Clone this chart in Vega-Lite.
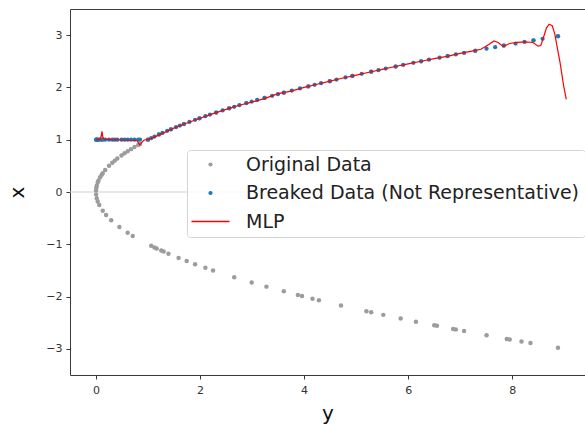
{
  "$schema": "https://vega.github.io/schema/vega-lite/v6.json",
  "width": 515,
  "height": 366,
  "autosize": {"type": "none"},
  "padding": {"left": 70, "top": 9, "right": 0, "bottom": 51},
  "background": "white",
  "config": {
    "font": "DejaVu Sans",
    "view": {"stroke": "#3a3a3a", "strokeWidth": 1},
    "axis": {
      "grid": false,
      "domain": false,
      "tickColor": "#3a3a3a",
      "tickSize": 4,
      "labelFontSize": 11,
      "labelColor": "#333333",
      "labelFont": "DejaVu Sans",
      "titleFont": "DejaVu Sans",
      "titleFontSize": 20,
      "titleFontWeight": "normal",
      "titleColor": "#111111"
    }
  },
  "datasets": {
    "orig": [
      {"y": 0.0009, "x": 0.03}, {"y": 0.0064, "x": 0.08}, {"y": 0.0144, "x": 0.12}, {"y": 0.0324, "x": 0.18},
      {"y": 0.0484, "x": 0.22}, {"y": 0.0784, "x": 0.28}, {"y": 0.1089, "x": 0.33}, {"y": 0.1296, "x": 0.36},
      {"y": 0.1764, "x": 0.42}, {"y": 0.25, "x": 0.5}, {"y": 0.3136, "x": 0.56}, {"y": 0.36, "x": 0.6},
      {"y": 0.4096, "x": 0.64}, {"y": 0.49, "x": 0.7}, {"y": 0.5476, "x": 0.74}, {"y": 0.6084, "x": 0.78},
      {"y": 0.6724, "x": 0.82}, {"y": 0.7396, "x": 0.86}, {"y": 0.81, "x": 0.9}, {"y": 0.8464, "x": 0.92},
      {"y": 0.0025, "x": -0.05}, {"y": 0.0144, "x": -0.12}, {"y": 0.0324, "x": -0.18}, {"y": 0.0625, "x": -0.25},
      {"y": 0.1296, "x": -0.36}, {"y": 0.1936, "x": -0.44}, {"y": 0.2916, "x": -0.54}, {"y": 0.4489, "x": -0.67},
      {"y": 0.6084, "x": -0.78}, {"y": 0.7056, "x": -0.84}, {"y": 1.0609, "x": -1.03}, {"y": 1.1236, "x": -1.06},
      {"y": 1.1664, "x": -1.08}, {"y": 1.2544, "x": -1.12}, {"y": 1.2996, "x": -1.14}, {"y": 1.3924, "x": -1.18},
      {"y": 1.5876, "x": -1.26}, {"y": 1.7424, "x": -1.32}, {"y": 1.9044, "x": -1.38}, {"y": 2.1025, "x": -1.45},
      {"y": 2.25, "x": -1.5}, {"y": 2.6569, "x": -1.63}, {"y": 2.9929, "x": -1.73}, {"y": 3.2761, "x": -1.81},
      {"y": 3.61, "x": -1.9}, {"y": 3.8809, "x": -1.97}, {"y": 3.9601, "x": -1.99}, {"y": 4.1616, "x": -2.04},
      {"y": 4.2849, "x": -2.07}, {"y": 4.7089, "x": -2.17}, {"y": 5.1984, "x": -2.28}, {"y": 5.29, "x": -2.3},
      {"y": 5.5225, "x": -2.35}, {"y": 5.8564, "x": -2.42}, {"y": 6.1504, "x": -2.48}, {"y": 6.5025, "x": -2.55},
      {"y": 6.5536, "x": -2.56}, {"y": 6.8644, "x": -2.62}, {"y": 6.9169, "x": -2.63}, {"y": 7.0756, "x": -2.66},
      {"y": 7.5076, "x": -2.74}, {"y": 7.8961, "x": -2.81}, {"y": 7.9524, "x": -2.82}, {"y": 8.1796, "x": -2.86},
      {"y": 8.3521, "x": -2.89}, {"y": 8.8804, "x": -2.98},
      {"y": 1.0, "x": 1.0}, {"y": 1.21, "x": 1.1}, {"y": 1.44, "x": 1.2}, {"y": 1.69, "x": 1.3},
      {"y": 1.9881, "x": 1.41}, {"y": 2.3104, "x": 1.52}, {"y": 2.56, "x": 1.6}, {"y": 2.89, "x": 1.7},
      {"y": 3.24, "x": 1.8}, {"y": 3.61, "x": 1.9}, {"y": 4.0804, "x": 2.02}, {"y": 4.4944, "x": 2.12},
      {"y": 4.9284, "x": 2.22}, {"y": 5.29, "x": 2.3}, {"y": 5.76, "x": 2.4}, {"y": 6.25, "x": 2.5},
      {"y": 6.76, "x": 2.6}, {"y": 7.29, "x": 2.7}, {"y": 7.84, "x": 2.8}, {"y": 8.41, "x": 2.9},
      {"y": 8.8804, "x": 2.98}
    ],
    "brk": [
      {"y": 0.0009, "x": 1.0}, {"y": 0.0064, "x": 1.0}, {"y": 0.0144, "x": 1.0}, {"y": 0.0324, "x": 1.0},
      {"y": 0.0484, "x": 1.0}, {"y": 0.0784, "x": 1.0}, {"y": 0.1089, "x": 1.0}, {"y": 0.1296, "x": 1.0},
      {"y": 0.1764, "x": 1.0}, {"y": 0.25, "x": 1.0}, {"y": 0.3136, "x": 1.0}, {"y": 0.36, "x": 1.0},
      {"y": 0.4096, "x": 1.0}, {"y": 0.49, "x": 1.0}, {"y": 0.5476, "x": 1.0}, {"y": 0.6084, "x": 1.0},
      {"y": 0.6724, "x": 1.0}, {"y": 0.7396, "x": 1.0}, {"y": 0.81, "x": 1.0}, {"y": 0.8464, "x": 1.0},
      {"y": 1.0, "x": 1.0}, {"y": 1.0609, "x": 1.03}, {"y": 1.1236, "x": 1.06}, {"y": 1.21, "x": 1.1},
      {"y": 1.2769, "x": 1.13}, {"y": 1.3689, "x": 1.17}, {"y": 1.44, "x": 1.2}, {"y": 1.5376, "x": 1.24},
      {"y": 1.6129, "x": 1.27}, {"y": 1.69, "x": 1.3}, {"y": 1.7956, "x": 1.34}, {"y": 1.9044, "x": 1.38},
      {"y": 1.9881, "x": 1.41}, {"y": 2.1025, "x": 1.45}, {"y": 2.1904, "x": 1.48}, {"y": 2.3104, "x": 1.52},
      {"y": 2.4336, "x": 1.56}, {"y": 2.56, "x": 1.6}, {"y": 2.6569, "x": 1.63}, {"y": 2.7556, "x": 1.66},
      {"y": 2.89, "x": 1.7}, {"y": 2.9929, "x": 1.73}, {"y": 3.0976, "x": 1.76}, {"y": 3.24, "x": 1.8},
      {"y": 3.3856, "x": 1.84}, {"y": 3.4969, "x": 1.87}, {"y": 3.61, "x": 1.9}, {"y": 3.7636, "x": 1.94},
      {"y": 3.9204, "x": 1.98}, {"y": 4.0804, "x": 2.02}, {"y": 4.2025, "x": 2.05}, {"y": 4.3264, "x": 2.08},
      {"y": 4.4944, "x": 2.12}, {"y": 4.6225, "x": 2.15}, {"y": 4.7961, "x": 2.19}, {"y": 4.9284, "x": 2.22},
      {"y": 5.1076, "x": 2.26}, {"y": 5.29, "x": 2.3}, {"y": 5.4289, "x": 2.33}, {"y": 5.5696, "x": 2.36},
      {"y": 5.76, "x": 2.4}, {"y": 5.9049, "x": 2.43}, {"y": 6.1009, "x": 2.47}, {"y": 6.25, "x": 2.5},
      {"y": 6.4009, "x": 2.53}, {"y": 6.6049, "x": 2.57}, {"y": 6.76, "x": 2.6}, {"y": 6.9169, "x": 2.63},
      {"y": 7.0756, "x": 2.66}, {"y": 7.29, "x": 2.7}, {"y": 7.5076, "x": 2.74}, {"y": 7.6729, "x": 2.77},
      {"y": 7.84, "x": 2.8}, {"y": 8.0656, "x": 2.84}, {"y": 8.2369, "x": 2.87}, {"y": 8.41, "x": 2.9},
      {"y": 8.5849, "x": 2.93}, {"y": 8.8804, "x": 2.98}
    ],
    "mlp": [
      {"y": 0.0, "x": 1.0}, {"y": 0.08, "x": 1.01}, {"y": 0.1, "x": 1.07}, {"y": 0.115, "x": 1.16},
      {"y": 0.13, "x": 1.05}, {"y": 0.16, "x": 1.01}, {"y": 0.3, "x": 1.0}, {"y": 0.5, "x": 0.995},
      {"y": 0.7, "x": 0.99}, {"y": 0.79, "x": 0.98}, {"y": 0.84, "x": 0.9}, {"y": 0.88, "x": 0.95},
      {"y": 0.92, "x": 0.99}, {"y": 1.0, "x": 1.01}, {"y": 1.1, "x": 1.04}, {"y": 1.3, "x": 1.13},
      {"y": 1.5, "x": 1.225}, {"y": 1.75, "x": 1.32}, {"y": 2.0, "x": 1.41}, {"y": 2.25, "x": 1.5},
      {"y": 2.5, "x": 1.58}, {"y": 2.75, "x": 1.66}, {"y": 3.0, "x": 1.72}, {"y": 3.25, "x": 1.79},
      {"y": 3.5, "x": 1.88}, {"y": 3.75, "x": 1.93}, {"y": 4.0, "x": 2.0}, {"y": 4.25, "x": 2.06},
      {"y": 4.5, "x": 2.12}, {"y": 4.75, "x": 2.18}, {"y": 5.0, "x": 2.235}, {"y": 5.25, "x": 2.29},
      {"y": 5.5, "x": 2.345}, {"y": 5.75, "x": 2.4}, {"y": 6.0, "x": 2.45}, {"y": 6.25, "x": 2.5},
      {"y": 6.5, "x": 2.55}, {"y": 6.75, "x": 2.595}, {"y": 7.0, "x": 2.65}, {"y": 7.25, "x": 2.7},
      {"y": 7.4, "x": 2.73}, {"y": 7.55, "x": 2.82}, {"y": 7.65, "x": 2.89}, {"y": 7.73, "x": 2.86},
      {"y": 7.83, "x": 2.78}, {"y": 7.95, "x": 2.84}, {"y": 8.1, "x": 2.86}, {"y": 8.25, "x": 2.87},
      {"y": 8.4, "x": 2.86}, {"y": 8.5, "x": 2.79}, {"y": 8.55, "x": 2.8}, {"y": 8.6, "x": 2.95},
      {"y": 8.66, "x": 3.14}, {"y": 8.71, "x": 3.21}, {"y": 8.77, "x": 3.18}, {"y": 8.82, "x": 3.02},
      {"y": 8.86, "x": 2.8}, {"y": 8.92, "x": 2.48}, {"y": 8.99, "x": 2.03}, {"y": 9.04, "x": 1.77}
    ]
  },
  "layer": [
    {
      "data": {"values": [{"v": 0}]},
      "mark": {"type": "rule", "color": "#cfcfcf", "strokeWidth": 1},
      "encoding": {"y": {"field": "v", "type": "quantitative", "scale": {"domain": [-3.5, 3.5]}}}
    },
    {
      "data": {"name": "orig"},
      "mark": {"type": "point", "filled": true, "opacity": 1, "size": 20, "strokeWidth": 0},
      "encoding": {
        "x": {"field": "y", "type": "quantitative"},
        "y": {"field": "x", "type": "quantitative"},
        "color": {"datum": "Original Data"}
      }
    },
    {
      "data": {"name": "brk"},
      "mark": {"type": "point", "filled": true, "opacity": 1, "size": 18, "strokeWidth": 0},
      "encoding": {
        "x": {"field": "y", "type": "quantitative"},
        "y": {"field": "x", "type": "quantitative"},
        "color": {"datum": "Breaked Data (Not Representative)"}
      }
    },
    {
      "data": {"name": "mlp"},
      "mark": {"type": "line", "strokeWidth": 1.2},
      "encoding": {
        "x": {"field": "y", "type": "quantitative", "scale": {"domain": [-0.5, 9.4], "nice": false, "zero": false},
              "axis": {"values": [0, 2, 4, 6, 8], "format": "d", "title": "y", "labelPadding": 5, "titlePadding": 8}},
        "y": {"field": "x", "type": "quantitative", "scale": {"domain": [-3.5, 3.5], "nice": false},
              "axis": {"values": [-3, -2, -1, 0, 1, 2, 3], "format": "d", "title": "x", "labelPadding": 4, "titlePadding": 18}},
        "color": {
          "datum": "MLP",
          "scale": {
            "domain": ["Original Data", "Breaked Data (Not Representative)", "MLP"],
            "range": ["#9c9c9c", "#1f77b4", "#ff0000"]
          },
          "legend": {
            "title": null,
            "orient": "none",
            "legendX": 117,
            "legendY": 141,
            "labelFontSize": 19,
            "labelLimit": 0,
            "labelColor": "#222222",
            "labelFont": "DejaVu Sans",
            "symbolSize": 1444,
            "symbolOffset": 9,
            "labelOffset": 26,
            "rowPadding": 8.5,
            "padding": 5,
            "fillColor": "rgba(255,255,255,0.85)",
            "strokeColor": "#d5d5d5",
            "cornerRadius": 3,
            "encode": {
              "symbols": {
                "update": {
                  "shape": {"signal": "datum.value === 'MLP' ? 'stroke' : 'circle'"},
                  "size": {"signal": "datum.value === 'MLP' ? 1444 : 18"},
                  "strokeWidth": {"signal": "datum.value === 'MLP' ? 1.5 : 0"},
                  "stroke": {"signal": "datum.value === 'MLP' ? '#ff0000' : 'transparent'"},
                  "fill": {"signal": "datum.value === 'MLP' ? 'transparent' : (datum.value === 'Original Data' ? '#9c9c9c' : '#1f77b4')"},
                  "opacity": {"value": 1}
                }
              }
            }
          }
        }
      }
    }
  ]
}
